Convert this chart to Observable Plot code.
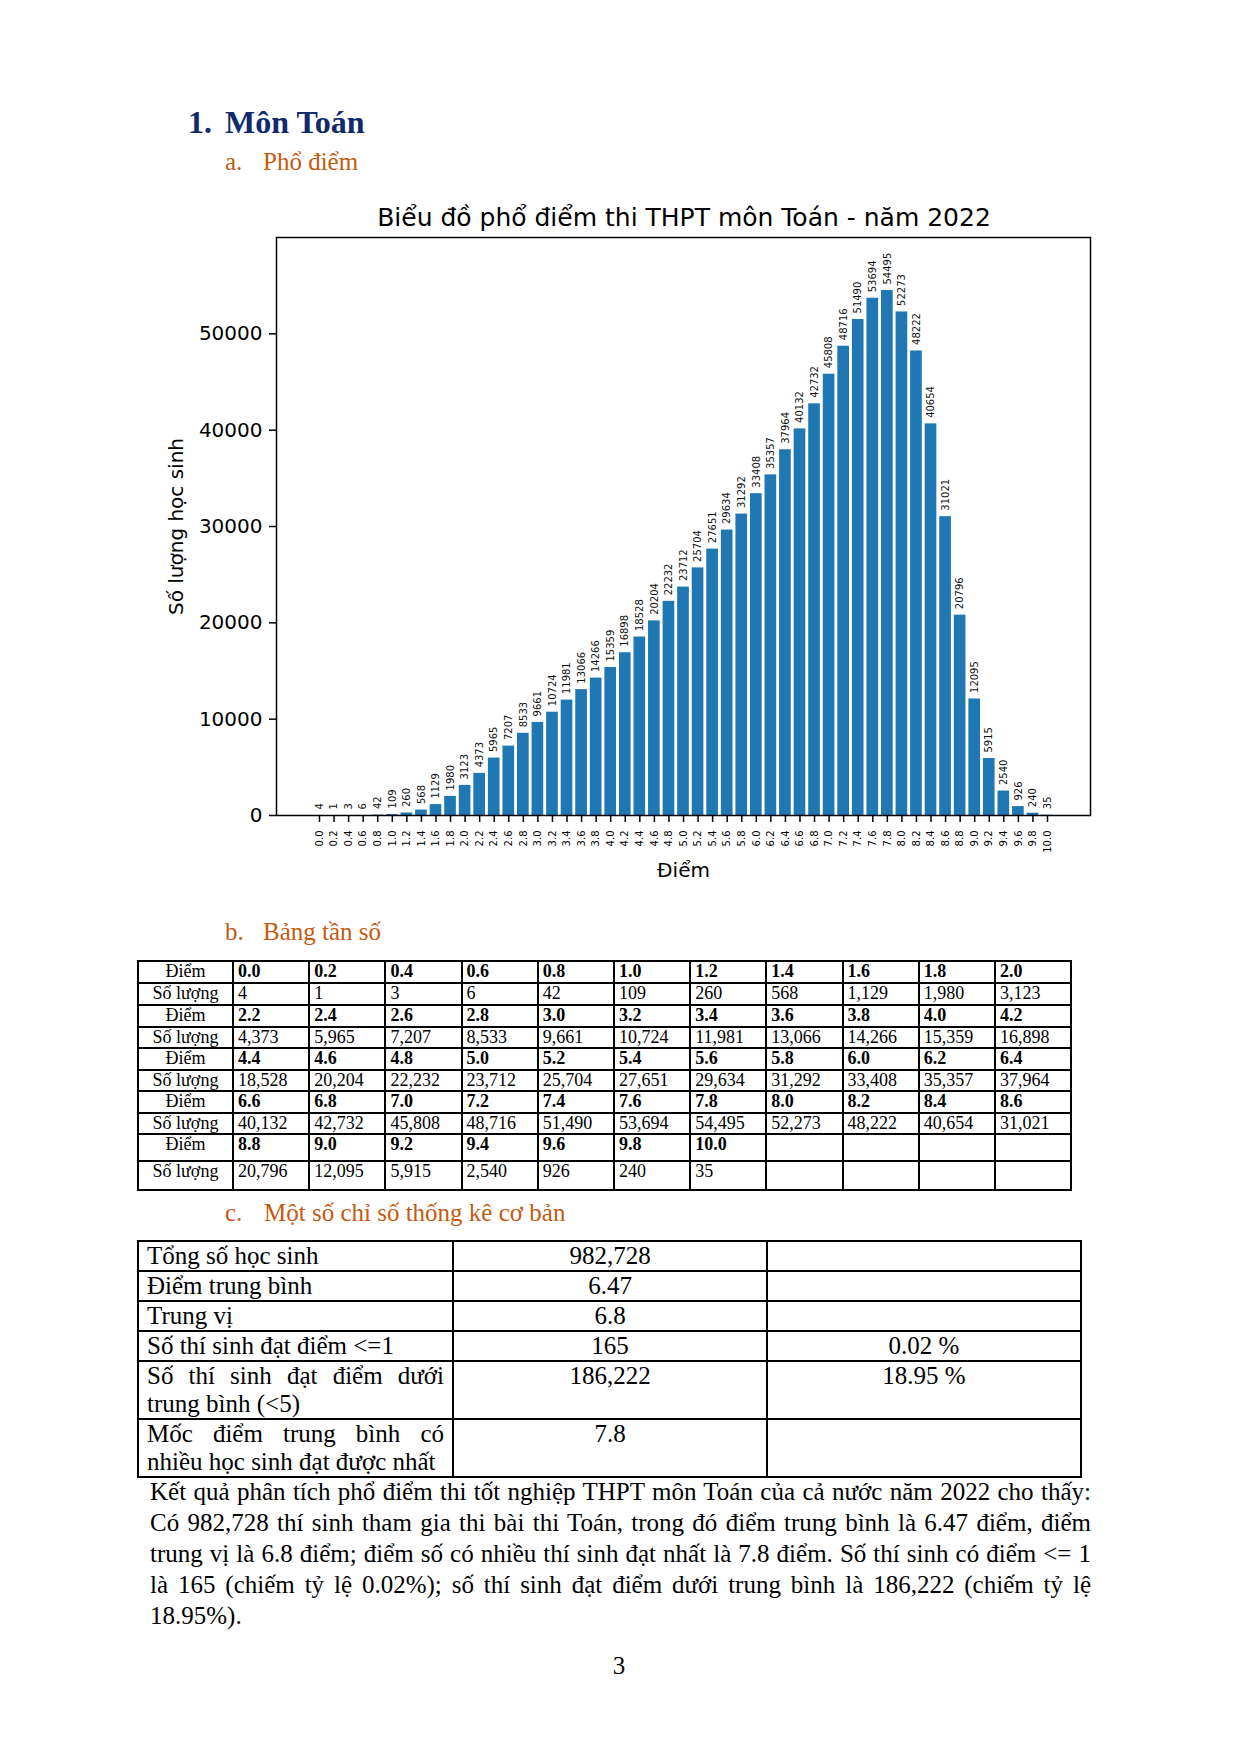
<!DOCTYPE html>
<html><head><meta charset="utf-8">
<script src="https://cdn.jsdelivr.net/npm/d3@7"></script>
<script src="https://cdn.jsdelivr.net/npm/@observablehq/plot@0.6"></script>
<style>
html,body{margin:0;padding:0;background:#fff;}
body{width:1240px;height:1754px;position:relative;overflow:hidden;font-family:"Liberation Serif","Times New Roman",serif;color:#000;}
.abs{position:absolute;white-space:nowrap;}
.h1{font-weight:bold;font-size:32px;line-height:32px;color:#112a6b;}
.h2{font-size:25px;line-height:25px;color:#c55a11;}
#title{font-family:"DejaVu Sans";font-size:25px;line-height:25px;text-align:center;width:800px;left:284px;top:205px;}
#chart{position:absolute;left:140px;top:230px;}
table{border-collapse:collapse;table-layout:fixed;position:absolute;}
#t1{left:137px;top:960px;font-size:18px;line-height:19px;}
#t1 td{border:2px solid #000;padding:0 4px;vertical-align:top;white-space:nowrap;overflow:hidden;}
#t1 td.lab{text-align:center;}
#t1 tr.sc td.v{font-weight:bold;}
#t2{left:137px;top:1240px;font-size:25px;line-height:28px;}
#t2 td{border:2px solid #000;padding:0 8px;vertical-align:top;}
#t2 td.c{text-align:center;}
.jl{text-align:justify;text-align-last:justify;white-space:nowrap;}
.pl{position:absolute;left:150px;width:941px;font-size:25px;line-height:31px;white-space:nowrap;}
.pl.j{text-align:justify;text-align-last:justify;}
</style></head>
<body>
<div class="abs h1" style="left:188px;top:106px;">1.</div>
<div class="abs h1" style="left:225px;top:106px;">Môn Toán</div>
<div class="abs h2" style="left:225px;top:149px;">a.</div>
<div class="abs h2" style="left:263px;top:149px;">Phổ điểm</div>
<div id="title" class="abs">Biểu đồ phổ điểm thi THPT môn Toán - năm 2022</div>
<div id="chart"></div>
<div class="abs h2" style="left:225px;top:919px;">b.</div>
<div class="abs h2" style="left:263px;top:919px;">Bảng tần số</div>
<table id="t1"></table>
<div class="abs h2" style="left:225px;top:1200px;">c.</div>
<div class="abs h2" style="left:264px;top:1200px;">Một số chỉ số thống kê cơ bản</div>
<table id="t2"></table>
<div id="para"></div>
<div class="abs" style="left:607px;top:1653px;font-size:25px;line-height:25px;width:24px;text-align:center;">3</div>
<script>
const scores = ["0.0","0.2","0.4","0.6","0.8","1.0","1.2","1.4","1.6","1.8","2.0","2.2","2.4","2.6","2.8","3.0","3.2","3.4","3.6","3.8","4.0","4.2","4.4","4.6","4.8","5.0","5.2","5.4","5.6","5.8","6.0","6.2","6.4","6.6","6.8","7.0","7.2","7.4","7.6","7.8","8.0","8.2","8.4","8.6","8.8","9.0","9.2","9.4","9.6","9.8","10.0"];
const counts = [4,1,3,6,42,109,260,568,1129,1980,3123,4373,5965,7207,8533,9661,10724,11981,13066,14266,15359,16898,18528,20204,22232,23712,25704,27651,29634,31292,33408,35357,37964,40132,42732,45808,48716,51490,53694,54495,52273,48222,40654,31021,20796,12095,5915,2540,926,240,35];
const yTicks = [0,10000,20000,30000,40000,50000];
const rowLabelScore = "Điểm";
const rowLabelCount = "Số lượng";
const statLabels = [["Tổng số học sinh"],["Điểm trung bình"],["Trung vị"],["Số thí sinh đạt điểm <=1"],["Số thí sinh đạt điểm dưới","trung bình (<5)"],["Mốc điểm trung bình có","nhiều học sinh đạt được nhất"]];
const statValues = ["982,728","6.47","6.8","165","186,222","7.8"];
const statPercents = ["","","","0.02 %","18.95 %",""];
const paraLines = [
 "Kết quả phân tích phổ điểm thi tốt nghiệp THPT môn Toán của cả nước năm 2022 cho thấy:",
 "Có 982,728 thí sinh tham gia thi bài thi Toán, trong đó điểm trung bình là 6.47 điểm, điểm",
 "trung vị là 6.8 điểm; điểm số có nhiều thí sinh đạt nhất là 7.8 điểm. Số thí sinh có điểm <= 1",
 "là 165 (chiếm tỷ lệ 0.02%); số thí sinh đạt điểm dưới trung bình là 186,222 (chiếm tỷ lệ",
 "18.95%)."
];

const data = scores.map((s, i) => ({score: s, count: counts[i]}));
const chart = Plot.plot({
  width: 970, height: 660,
  marginLeft: 136, marginTop: 7, marginRight: 20, marginBottom: 75,
  style: {fontFamily: "DejaVu Sans", color: "#000", background: "transparent", overflow: "visible"},
  x: {type: "band", domain: scores, paddingInner: 0.2, paddingOuter: 2.553, round: false, label: null},
  y: {domain: [0, 60000], label: null},
  marks: [
    Plot.barY(data, {x: "score", y: "count", fill: "#1f77b4"}),
    Plot.text(data, {x: "score", y: "count", text: d => String(d.count), rotate: -90, textAnchor: "start", lineAnchor: "middle", dy: -6, fontSize: 10, fill: "#111"}),
    Plot.axisY({ticks: yTicks, tickFormat: d => String(d), tickSize: 7, tickPadding: 7, fontSize: 20, label: null, strokeWidth: 1.5}),
    Plot.axisX({tickRotate: -90, tickSize: 7, tickPadding: 8, fontSize: 10, label: null, strokeWidth: 1.5}),
    Plot.frame({stroke: "#000", strokeWidth: 1.5}),
    Plot.text(["Điểm"], {frameAnchor: "bottom", dy: 55, lineAnchor: "middle", textAnchor: "middle", fontSize: 20}),
    Plot.text(["Số lượng học sinh"], {frameAnchor: "left", dx: -100, rotate: -90, textAnchor: "middle", lineAnchor: "middle", fontSize: 20})
  ]
});
document.getElementById("chart").appendChild(chart);

// Table 1
const fmt = d3.format(",");
const t1 = document.getElementById("t1");
const colW = [95].concat(Array(11).fill(76.2));
const cg = document.createElement("colgroup");
colW.forEach(w => { const c = document.createElement("col"); c.style.width = w + "px"; cg.appendChild(c); });
t1.appendChild(cg);
const rowH = [22,22,22,21,22,21,22,21,27,29];
let r = 0;
for (let i = 0; i < scores.length; i += 11) {
  const sc = scores.slice(i, i + 11), ct = counts.slice(i, i + 11);
  const tr1 = document.createElement("tr"); tr1.className = "sc"; tr1.style.height = rowH[r++] + "px";
  const tr2 = document.createElement("tr"); tr2.className = "ct"; tr2.style.height = rowH[r++] + "px";
  let td = document.createElement("td"); td.className = "lab"; td.textContent = rowLabelScore; tr1.appendChild(td);
  td = document.createElement("td"); td.className = "lab"; td.textContent = rowLabelCount; tr2.appendChild(td);
  for (let j = 0; j < 11; j++) {
    let a = document.createElement("td"); a.className = "v"; a.textContent = sc[j] || ""; tr1.appendChild(a);
    let b = document.createElement("td"); b.className = "v"; b.textContent = ct[j] !== undefined ? fmt(ct[j]) : ""; tr2.appendChild(b);
  }
  t1.appendChild(tr1); t1.appendChild(tr2);
}

// Table 2
const t2 = document.getElementById("t2");
const cg2 = document.createElement("colgroup");
[315, 314, 314].forEach(w => { const c = document.createElement("col"); c.style.width = w + "px"; cg2.appendChild(c); });
t2.appendChild(cg2);
const rowH2 = [30, 28, 28, 29, 57, 57];
statLabels.forEach((lab, i) => {
  const tr = document.createElement("tr"); tr.style.height = rowH2[i] + "px";
  const a = document.createElement("td");
  lab.forEach((line, k) => {
    const d = document.createElement("div");
    d.textContent = line;
    if (lab.length > 1 && k < lab.length - 1) d.className = "jl";
    a.appendChild(d);
  });
  const b = document.createElement("td"); b.className = "c"; b.textContent = statValues[i];
  const c = document.createElement("td"); c.className = "c"; c.textContent = statPercents[i];
  tr.appendChild(a); tr.appendChild(b); tr.appendChild(c);
  t2.appendChild(tr);
});

// Paragraph
const para = document.getElementById("para");
paraLines.forEach((line, i) => {
  const d = document.createElement("div");
  d.className = "pl" + (i < paraLines.length - 1 ? " j" : "");
  d.style.top = (1476 + i * 31) + "px";
  d.textContent = line;
  para.appendChild(d);
  if (d.scrollWidth > 941) {
    const over = d.scrollWidth - 941;
    d.style.letterSpacing = (-(over + 4) / line.length) + "px";
  }
});
</script>
</body></html>
